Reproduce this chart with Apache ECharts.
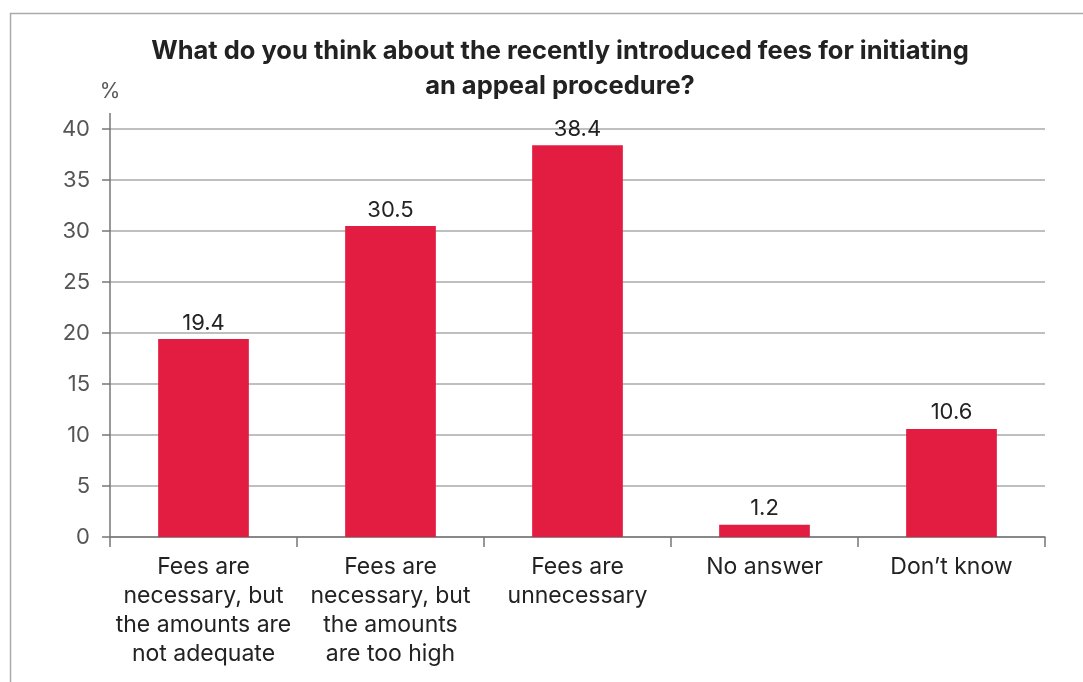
<!DOCTYPE html>
<html>
<head>
<meta charset="utf-8">
<script src="https://cdn.jsdelivr.net/npm/echarts@6/dist/echarts.min.js"></script>
<style>
  html, body { margin: 0; padding: 0; background: #fff; }
  #chart { width: 1083px; height: 682px; }
</style>
</head>
<body>
<div id="chart"></div>
<script>
// Survey answers and their shares (%)
const categories = [
  'Fees are\nnecessary, but\nthe amounts are\nnot adequate',
  'Fees are\nnecessary, but\nthe amounts\nare too high',
  'Fees are\nunnecessary',
  'No answer',
  'Don\u2019t know'
];
const values = [19.4, 30.5, 38.4, 1.2, 10.6];
const yTicks = { min: 0, max: 40, interval: 5 };

const FONT = 'Inter, "Open Sans", sans-serif';
const chart = echarts.init(document.getElementById('chart'), null, { renderer: 'canvas' });

const option = {
  animation: false,
  backgroundColor: '#fff',
  textStyle: { fontFamily: FONT },
  title: {
    text: 'What do you think about the recently introduced fees for initiating\nan appeal procedure?',
    left: 555,
    top: 29,
    textAlign: 'center',
    textStyle: { fontFamily: FONT, fontSize: 25.5, fontWeight: 'bold', color: '#222', lineHeight: 35 }
  },
  grid: { left: 110, right: 38, top: 129, bottom: 145 },
  xAxis: {
    type: 'category',
    data: categories,
    axisLine: { show: true, lineStyle: { color: '#777', width: 1.5 } },
    axisTick: { show: true, length: 10, alignWithLabel: false, lineStyle: { color: '#777', width: 1.5 } },
    axisLabel: { interval: 0, margin: 16, fontSize: 23, lineHeight: 29, color: '#222', fontFamily: FONT }
  },
  yAxis: {
    type: 'value',
    min: yTicks.min,
    max: yTicks.max,
    interval: yTicks.interval,
    name: '%',
    nameLocation: 'end',
    nameGap: 27,
    nameTextStyle: { fontSize: 21, color: '#555', fontFamily: FONT, align: 'center' },
    axisLine: { show: true, lineStyle: { color: '#777', width: 1.5 } },
    axisTick: { show: true, length: 8, lineStyle: { color: '#777', width: 1.5 } },
    axisLabel: { margin: 20, fontSize: 22, color: '#555', fontFamily: FONT },
    splitLine: { show: true, lineStyle: { color: '#aaa', width: 1.5 } }
  },
  series: [{
    type: 'bar',
    data: values,
    barWidth: '48.5%',
    itemStyle: { color: '#e31c41' },
    label: {
      show: true,
      position: 'top',
      distance: 5,
      fontSize: 22,
      color: '#222',
      fontFamily: FONT,
      formatter: p => p.value.toFixed(1)
    }
  }]
};
chart.setOption(option);

// Frame around the figure and the short extension of the value axis above the top grid line
const axisTop = chart.convertToPixel({ yAxisIndex: 0 }, yTicks.max);
const axisX = chart.convertToPixel({ xAxisIndex: 0 }, 0) - (chart.convertToPixel({ xAxisIndex: 0 }, 1) - chart.convertToPixel({ xAxisIndex: 0 }, 0)) / 2;
chart.setOption({
  graphic: [
    {
      type: 'rect',
      shape: { x: 10.5, y: 13.5, width: 1200, height: 1000 },
      style: { fill: 'none', stroke: '#aaa', lineWidth: 1.5 },
      silent: true, z: -1
    },
    {
      type: 'line',
      shape: { x1: axisX, y1: axisTop, x2: axisX, y2: axisTop - 16 },
      style: { stroke: '#777', lineWidth: 1.5 },
      silent: true
    }
  ]
});
</script>
</body>
</html>
